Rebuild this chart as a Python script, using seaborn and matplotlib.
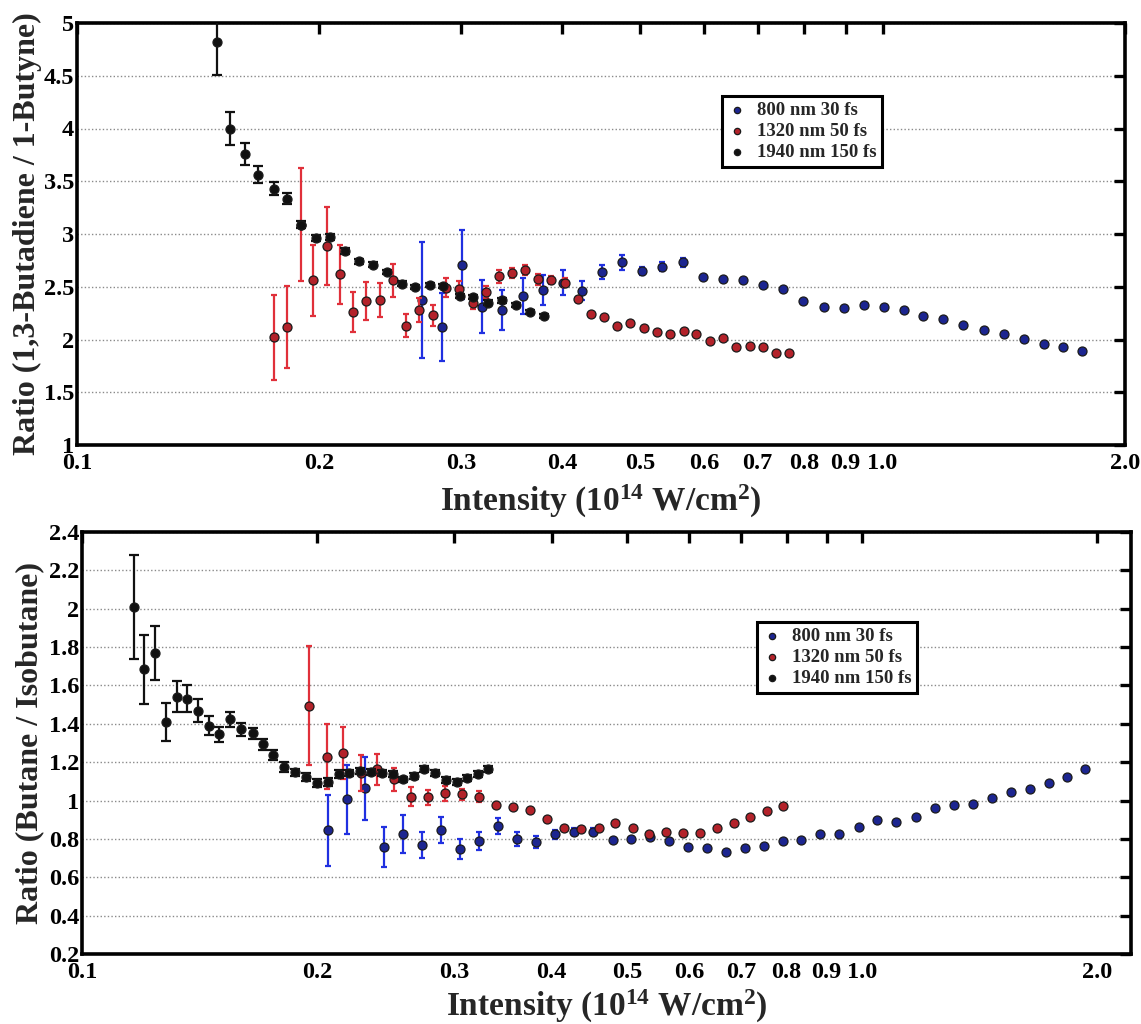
import numpy as np
import pandas as pd
import seaborn as sns
import matplotlib
matplotlib.use("Agg")
import matplotlib.pyplot as plt
from matplotlib.ticker import FixedLocator, FixedFormatter, NullLocator

# ---------------- data: top panel (1,3-Butadiene / 1-Butyne) ----------------
top_blue_x = [0.268, 0.2838, 0.3006, 0.3182, 0.337, 0.3575, 0.3784, 0.4008, 0.4236, 0.4486,
              0.475, 0.503, 0.5325, 0.5648, 0.598, 0.6336, 0.671, 0.711, 0.753, 0.797,
              0.8455, 0.8954, 0.948, 1.004, 1.063, 1.123, 1.19, 1.26, 1.336, 1.415,
              1.498, 1.587, 1.675, 1.77]
top_blue_y = [2.375, 2.12, 2.71, 2.31, 2.28, 2.41, 2.47, 2.54, 2.46, 2.64,
              2.73, 2.65, 2.69, 2.73, 2.59, 2.57, 2.565, 2.52, 2.48, 2.365,
              2.31, 2.30, 2.33, 2.31, 2.28, 2.22, 2.19, 2.14, 2.09, 2.05,
              2.005, 1.96, 1.93, 1.89]
top_blue_err = [0.55, 0.32, 0.33, 0.25, 0.19, 0.17, 0.14, 0.12, 0.09, 0.07,
                0.07, 0.04, 0.04, 0.04, 0, 0, 0, 0, 0, 0,
                0, 0, 0, 0, 0, 0, 0, 0, 0, 0,
                0, 0, 0, 0]

top_red_x = [0.1757, 0.1822, 0.1898, 0.1966, 0.2043, 0.2122, 0.2204, 0.2286, 0.2375, 0.2466,
             0.2563, 0.266, 0.2764, 0.2873, 0.2977, 0.310, 0.322, 0.3344, 0.3467, 0.3603,
             0.3737, 0.388, 0.403, 0.4183, 0.4346, 0.4516, 0.468, 0.4864, 0.505, 0.525,
             0.5453, 0.5665, 0.5873, 0.6102, 0.634, 0.6587, 0.6843, 0.711, 0.7385, 0.765]
top_red_y = [2.02, 2.12, 3.09, 2.56, 2.89, 2.62, 2.26, 2.365, 2.375, 2.56,
             2.13, 2.28, 2.23, 2.49, 2.48, 2.35, 2.45, 2.60, 2.63, 2.66,
             2.57, 2.565, 2.54, 2.38, 2.24, 2.21, 2.13, 2.16, 2.11, 2.07,
             2.05, 2.08, 2.05, 1.99, 2.01, 1.93, 1.94, 1.93, 1.87, 1.87]
top_red_err = [0.40, 0.39, 0.54, 0.34, 0.37, 0.28, 0.19, 0.18, 0.16, 0.16,
               0.11, 0.11, 0.10, 0.09, 0.07, 0.06, 0.06, 0.06, 0.05, 0.05,
               0.05, 0.04, 0.04, 0.02, 0, 0, 0, 0, 0, 0,
               0, 0, 0, 0, 0, 0, 0, 0, 0, 0]

top_black_x = [0.149, 0.155, 0.1617, 0.168, 0.1754, 0.1822, 0.1898, 0.198, 0.2062, 0.2153,
               0.224, 0.233, 0.2425, 0.253, 0.263, 0.2745, 0.285, 0.2985, 0.310, 0.3234,
               0.337, 0.351, 0.3655, 0.380]
top_black_y = [4.82, 4.00, 3.76, 3.56, 3.43, 3.335, 3.09, 2.96, 2.97, 2.84,
               2.74, 2.71, 2.64, 2.53, 2.50, 2.52, 2.51, 2.41, 2.40, 2.35,
               2.37, 2.33, 2.26, 2.22]
top_black_err = [0.31, 0.16, 0.105, 0.08, 0.06, 0.05, 0.03, 0.03, 0.03, 0.025,
                 0.02, 0.02, 0.02, 0.02, 0.02, 0.02, 0.02, 0.02, 0.02, 0.02,
                 0.02, 0.02, 0.02, 0.02]

# ---------------- data: bottom panel (Butane / Isobutane) ----------------
bot_blue_x = [0.2065, 0.2185, 0.2306, 0.2441, 0.2577, 0.2731, 0.2886, 0.3052, 0.3228, 0.3412,
              0.3608, 0.382, 0.4033, 0.4272, 0.4516, 0.4786, 0.5051, 0.534, 0.5645, 0.5977,
              0.632, 0.6687, 0.7067, 0.7472, 0.791, 0.8355, 0.8837, 0.934, 0.989, 1.044,
              1.106, 1.172, 1.238, 1.309, 1.385, 1.466, 1.551, 1.639, 1.734, 1.83,
              1.928]
bot_blue_y = [0.846, 1.006, 1.064, 0.759, 0.826, 0.768, 0.846, 0.747, 0.789, 0.867,
              0.799, 0.785, 0.824, 0.838, 0.838, 0.794, 0.799, 0.81, 0.79, 0.759,
              0.751, 0.733, 0.751, 0.764, 0.79, 0.794, 0.825, 0.825, 0.864, 0.898,
              0.89, 0.912, 0.959, 0.977, 0.98, 1.015, 1.046, 1.06, 1.093, 1.121,
              1.164]
bot_blue_err = [0.185, 0.18, 0.165, 0.105, 0.097, 0.07, 0.067, 0.05, 0.048, 0.04,
                0.035, 0.03, 0.025, 0.02, 0.02, 0, 0, 0, 0, 0,
                0, 0, 0, 0, 0, 0, 0, 0, 0, 0,
                0, 0, 0, 0, 0, 0, 0, 0, 0, 0,
                0]

bot_red_x = [0.1956, 0.206, 0.2163, 0.2276, 0.2391, 0.2512, 0.2639, 0.278, 0.292, 0.3067,
             0.3228, 0.3395, 0.3566, 0.3753, 0.3949, 0.4152, 0.4362, 0.4592, 0.4823, 0.5076,
             0.5337, 0.5606, 0.5889, 0.6187, 0.651, 0.684, 0.7185, 0.7547, 0.791]
bot_red_y = [1.494, 1.229, 1.246, 1.145, 1.163, 1.11, 1.02, 1.017, 1.038, 1.032,
             1.02, 0.977, 0.965, 0.95, 0.904, 0.858, 0.851, 0.855, 0.884, 0.855,
             0.825, 0.834, 0.832, 0.832, 0.858, 0.881, 0.913, 0.947, 0.973]
bot_red_err = [0.31, 0.17, 0.135, 0.095, 0.08, 0.06, 0.05, 0.04, 0.04, 0.03,
               0.03, 0, 0, 0, 0, 0, 0, 0, 0, 0,
               0, 0, 0, 0, 0, 0, 0, 0, 0]

bot_black_x = [0.1166, 0.1201, 0.124, 0.1281, 0.1323, 0.1365, 0.141, 0.1455, 0.15, 0.1548,
               0.16, 0.1654, 0.1705, 0.1759, 0.1817, 0.1875, 0.1935, 0.2, 0.2065, 0.2135,
               0.2202, 0.2272, 0.2347, 0.2423, 0.2502, 0.2582, 0.266, 0.2747, 0.2836, 0.2929,
               0.3022, 0.3119, 0.3215, 0.3317]
bot_black_y = [2.01, 1.684, 1.77, 1.41, 1.541, 1.53, 1.468, 1.39, 1.345, 1.423,
               1.371, 1.35, 1.293, 1.237, 1.176, 1.147, 1.121, 1.093, 1.098, 1.138,
               1.145, 1.155, 1.15, 1.142, 1.138, 1.11, 1.128, 1.163, 1.142, 1.107,
               1.098, 1.116, 1.137, 1.164]
bot_black_err = [0.27, 0.18, 0.14, 0.10, 0.08, 0.07, 0.06, 0.05, 0.04, 0.04,
                 0.035, 0.03, 0.03, 0.025, 0.025, 0.02, 0.02, 0.02, 0.02, 0.02,
                 0.015, 0.015, 0.015, 0.015, 0.015, 0.015, 0.015, 0.015, 0.015, 0.015,
                 0.015, 0.015, 0.015, 0.015]

series_labels = ["800 nm 30 fs", "1320 nm 50 fs", "1940 nm 150 fs"]

x_ticks = [0.1, 0.2, 0.3, 0.4, 0.5, 0.6, 0.7, 0.8, 0.9, 1.0, 2.0]
x_tick_labels = ["0.1", "0.2", "0.3", "0.4", "0.5", "0.6", "0.7", "0.8", "0.9", "1.0", "2.0"]
top_y_ticks = [1, 1.5, 2, 2.5, 3, 3.5, 4, 4.5, 5]
top_y_tick_labels = ["1", "1.5", "2", "2.5", "3", "3.5", "4", "4.5", "5"]
bot_y_ticks = [0.2, 0.4, 0.6, 0.8, 1.0, 1.2, 1.4, 1.6, 1.8, 2.0, 2.2, 2.4]
bot_y_tick_labels = ["0.2", "0.4", "0.6", "0.8", "1", "1.2", "1.4", "1.6", "1.8", "2", "2.2", "2.4"]

top_ylabel = "Ratio (1,3-Butadiene / 1-Butyne)"
bot_ylabel = "Ratio (Butane / Isobutane)"
xlabel = r"Intensity (10$^{14}$ W/cm$^{2}$)"

# ---------------- style ----------------
sns.set_theme(style="white")
plt.rcParams["font.family"] = ["Liberation Serif", "DejaVu Serif"]
plt.rcParams["font.weight"] = "bold"
plt.rcParams["mathtext.fontset"] = "custom"
plt.rcParams["mathtext.rm"] = "Liberation Serif:bold"
plt.rcParams["mathtext.bf"] = "Liberation Serif:bold"
plt.rcParams["mathtext.it"] = "Liberation Serif:bold"
plt.rcParams["mathtext.default"] = "bf"

marker_fc = {"blue": "#1c2590", "red": "#b3222a", "black": "#111111"}
err_c = {"blue": "#2030e0", "red": "#e0303a", "black": "#111111"}

W, H = 1141, 1024
fig = plt.figure(figsize=(W / 100, H / 100), dpi=100)
ax1 = fig.add_axes([77 / W, 1 - 445 / H, 1048 / W, 422 / H])
ax2 = fig.add_axes([82 / W, 1 - 954 / H, 1049 / W, 422 / H])


def draw_series(ax, x, y, e, key, label, capsize, z):
    ax.errorbar(x, y, yerr=e, fmt="none", ecolor=err_c[key], elinewidth=1.6,
                capsize=capsize, capthick=1.6, zorder=z)
    df = pd.DataFrame({"x": x, "y": y})
    sns.scatterplot(data=df, x="x", y="y", ax=ax, color=marker_fc[key],
                    edgecolor="#1a1a1a", linewidth=0.9, s=42, label=label,
                    zorder=z + 0.5, legend=True)


def style_axes(ax, xlim, ylim, yticks, yticklabels, ylabel, ylab_x, xlab_y, legend_anchor):
    ax.set_xscale("log")
    ax.set_xlim(*xlim)
    ax.set_ylim(*ylim)
    ax.xaxis.set_major_locator(FixedLocator(x_ticks))
    ax.xaxis.set_major_formatter(FixedFormatter(x_tick_labels))
    ax.xaxis.set_minor_locator(NullLocator())
    ax.yaxis.set_major_locator(FixedLocator(yticks))
    ax.yaxis.set_major_formatter(FixedFormatter(yticklabels))
    ax.yaxis.set_minor_locator(NullLocator())
    ax.tick_params(axis="both", which="major", direction="in", length=8, width=2.4,
                   top=True, right=True, labelsize=17.5, colors="black")
    ax.tick_params(axis="x", pad=6)
    ax.tick_params(axis="y", pad=2)
    for lab in ax.get_xticklabels() + ax.get_yticklabels():
        lab.set_fontweight("bold")
    for sp in ax.spines.values():
        sp.set_linewidth(2.6)
        sp.set_color("black")
        sp.set_visible(True)
    ax.set_axisbelow(True)
    ax.yaxis.grid(True, linestyle=(0, (1, 1.6)), color="#8a8a8a", linewidth=1.0)
    ax.xaxis.grid(False)
    ax.set_xlabel(xlabel, fontsize=24, fontweight="bold")
    ax.xaxis.set_label_coords(0.5, xlab_y)
    ax.set_ylabel(ylabel, fontsize=23, fontweight="bold")
    ax.yaxis.label.set_va("center")
    ax.yaxis.set_label_coords(ylab_x, 0.5)
    handles, labels = ax.get_legend_handles_labels()
    leg = ax.legend(handles, labels, loc="upper left", bbox_to_anchor=legend_anchor,
                    borderaxespad=0, frameon=True, fancybox=False, framealpha=1,
                    edgecolor="black", prop={"size": 13.5, "weight": "bold"},
                    markerscale=0.7, handlelength=1.0, handletextpad=0.6,
                    labelspacing=0.22, borderpad=0.3)
    leg.get_frame().set_linewidth(2.2)


# top panel
draw_series(ax1, top_blue_x, top_blue_y, top_blue_err, "blue", series_labels[0], 2, 3)
draw_series(ax1, top_red_x, top_red_y, top_red_err, "red", series_labels[1], 2, 4)
draw_series(ax1, top_black_x, top_black_y, top_black_err, "black", series_labels[2], 3.5, 5)
style_axes(ax1, (0.1, 2.0), (1, 5), top_y_ticks, top_y_tick_labels, top_ylabel,
           -0.047, -0.09, (0.615, 0.827))

# bottom panel
draw_series(ax2, bot_blue_x, bot_blue_y, bot_blue_err, "blue", series_labels[0], 2, 3)
draw_series(ax2, bot_red_x, bot_red_y, bot_red_err, "red", series_labels[1], 2, 4)
draw_series(ax2, bot_black_x, bot_black_y, bot_black_err, "black", series_labels[2], 3.5, 5)
style_axes(ax2, (0.1, 2.21), (0.2, 2.4), bot_y_ticks, bot_y_tick_labels, bot_ylabel,
           -0.050, -0.08, (0.643, 0.787))

fig.savefig("out.png", dpi=100, facecolor="white")
